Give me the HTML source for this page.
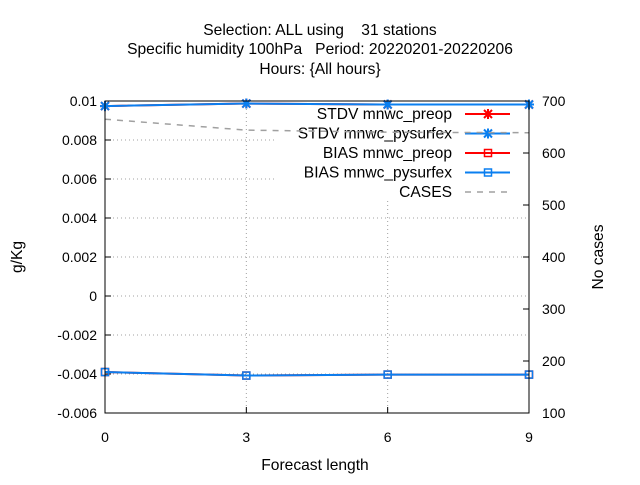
<!DOCTYPE html>
<html><head><meta charset="utf-8"><style>
body{margin:0;background:#fff;width:640px;height:480px;overflow:hidden}
text{font-family:"Liberation Sans",sans-serif;font-size:14px;fill:#000;white-space:pre}
text.big{font-size:15.6px}
</style></head><body>
<svg id="c" width="640" height="480"></svg>
<script>
const xVals=[0,3,6,9];
const stdvPreop=[0.00974,0.00987,0.00982,0.00982];
const stdvPysurfex=[0.00974,0.00987,0.00982,0.00982];
const biasPreop=[-0.0039,-0.00408,-0.00403,-0.00403];
const biasPysurfex=[-0.0039,-0.00408,-0.00403,-0.00403];
const cases=[665,644,640,639];
const yTicks=[-0.006,-0.004,-0.002,0,0.002,0.004,0.006,0.008,0.01];
const yTickLabels=["-0.006","-0.004","-0.002","0","0.002","0.004","0.006","0.008","0.01"];
const y2Ticks=[100,200,300,400,500,600,700];
const xTicks=[0,3,6,9];
const L=105,R=529,T=101,B=413;
const sx=v=>L+(v-0)/9*(R-L);
const sy=v=>B-(v+0.006)/0.016*(B-T);
const sy2=v=>B-(v-100)/600*(B-T);
const svg=document.getElementById('c');
const NS='http://www.w3.org/2000/svg';
function el(tag,attrs,parent){const e=document.createElementNS(NS,tag);for(const k in attrs)e.setAttribute(k,attrs[k]);(parent||svg).appendChild(e);return e;}
function txt(x,y,s,anchor,name,big){const t=el('text',{x:x,y:y,'text-anchor':anchor||'middle'});t.textContent=s;
if(big)t.setAttribute('class','big');


return t;}
txt(320,35,"Selection: ALL using    31 stations",'middle','title-line-1',1);
txt(320,54,"Specific humidity 100hPa   Period: 20220201-20220206",'middle','title-line-2',1);
txt(320,74,"Hours: {All hours}",'middle','title-line-3',1);
const grid=el('g',{});


yTicks.forEach(v=>{const y=sy(v);if(y>T+1&&y<B-1)el('line',{x1:L,x2:R,y1:y,y2:y,stroke:'#a0a0a0','stroke-dasharray':'1,3'},grid);});
xTicks.forEach(v=>{const x=sx(v);if(x>L+1&&x<R-1)el('line',{x1:x,x2:x,y1:T,y2:B,stroke:'#a0a0a0','stroke-dasharray':'1,3'},grid);});
const lg=el('g',{});


el('rect',{x:276,y:107,width:250,height:94,fill:'#fff'},lg);
yTicks.forEach((v,i)=>{const y=sy(v);el('line',{x1:L,x2:L+6,y1:y,y2:y,stroke:'#000'});txt(L-8,y+5,yTickLabels[i],'end','y-tick-label');});
y2Ticks.forEach(v=>{const y=sy2(v);el('line',{x1:R-6,x2:R,y1:y,y2:y,stroke:'#000'});txt(R+13,y+5,String(v),'start','y2-tick-label');});
xTicks.forEach(v=>{const x=sx(v);el('line',{x1:x,x2:x,y1:B,y2:B-6,stroke:'#000'});el('line',{x1:x,x2:x,y1:T,y2:T+6,stroke:'#000'});txt(x,442,String(v),'middle','x-tick-label');});
txt(315,470,"Forecast length",'middle','x-axis-title',1);
const yt=txt(22,257,"g/Kg",'middle','y-axis-title',1);yt.setAttribute('transform','rotate(-90 22 257)');
const y2t=txt(603,257,"No cases",'middle','y2-axis-title',1);y2t.setAttribute('transform','rotate(-90 603 257)');
function drawMarker(g,x,y,m,color){
  if(m==='star'){el('path',{d:`M${x-4},${y-4}L${x+4},${y+4}M${x-4},${y+4}L${x+4},${y-4}M${x-5},${y}L${x+5},${y}M${x},${y-5}L${x},${y+5}`,stroke:color,'stroke-width':2},g);}
  else el('rect',{x:x-3.5,y:y-3.5,width:7,height:7,fill:'none',stroke:color,'stroke-width':1.5},g);
}
const items=[["STDV mnwc_preop",'#ff0000','star',null],["STDV mnwc_pysurfex",'#0a7ff0','star',null],["BIAS mnwc_preop",'#ff0000','square',null],["BIAS mnwc_pysurfex",'#0a7ff0','square',null],["CASES",'#a0a0a0',null,'6,6']];
items.forEach((it,i)=>{const y=114+i*19.5;
  const t=el('text',{x:452,y:y+5,'text-anchor':'end','class':'big'},lg);t.textContent=it[0];
  
  
  el('line',{x1:465,x2:510,y1:y,y2:y,stroke:it[1],'stroke-width':it[3]?1.5:2,'stroke-dasharray':it[3]||'none'},lg);
  if(it[2])drawMarker(lg,488,y,it[2],it[1]);
});
function series(vals,scale,color,name,dash,marker){
  const g=el('g',{});
  
  
  const pts=vals.map((v,i)=>sx(xVals[i])+','+scale(v)).join(' ');
  el('polyline',{points:pts,fill:'none',stroke:color,'stroke-width':dash?1.5:2,'stroke-dasharray':dash||'none'},g);
  if(marker)vals.forEach((v,i)=>drawMarker(g,sx(xVals[i]),scale(v),marker,color));
}
series(cases,sy2,'#a0a0a0','series-cases','6,6',null);
series(stdvPreop,sy,'#ff0000','series-stdv-preop',null,'star');
series(stdvPysurfex,sy,'#0a7ff0','series-stdv-pysurfex',null,'star');
series(biasPreop,sy,'#ff0000','series-bias-preop',null,'square');
series(biasPysurfex,sy,'#0a7ff0','series-bias-pysurfex',null,'square');
el('rect',{x:L,y:T,width:R-L,height:B-T,fill:'none',stroke:'#000'});
</script>
</body></html>
